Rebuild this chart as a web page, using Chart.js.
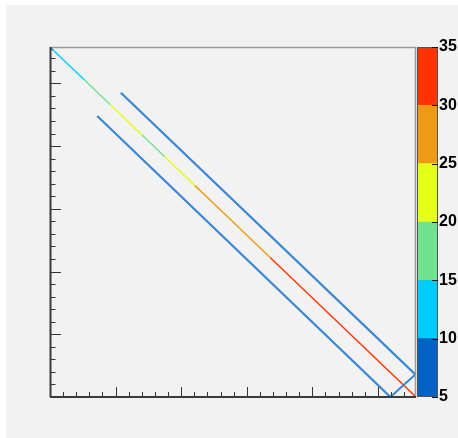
<!DOCTYPE html>
<html>
<head>
<meta charset="utf-8">
<script src="https://cdn.jsdelivr.net/npm/chart.js"></script>
<style>
  body { margin: 0; background: #ffffff; }
  #pad { position: absolute; left: 6px; top: 5px; width: 452px; height: 433px; background: #f2f2f2; }
  #main { position: absolute; left: 0; top: 0; }
  #cbar { position: absolute; left: 417px; top: 0; }
</style>
</head>
<body>
<div id="pad"></div>
<canvas id="main" width="458" height="438"></canvas>
<canvas id="cbar" width="41" height="438"></canvas>
<script>
// axis range (no labels on the axes)
const xMin = 0, xMax = 5.58;
const yMin = 0, yMax = 5.58;

// colour levels of the z scale
const levels = [5, 10, 15, 20, 25, 30, 35];
const levelColors = ["#0062c4", "#00ccff", "#70e290", "#e6ff1a", "#ef9a14", "#ff3300"];

// main diagonal, content changes along it
const diagX = [0.00, 0.05, 0.53, 0.92, 1.40, 1.75, 2.21, 2.70, 3.36, 5.58];
const diagY = [5.58, 5.53, 5.05, 4.66, 4.18, 3.83, 3.37, 2.88, 2.22, 0.00];
const diagZ = [7, 12, 17, 21, 19, 22, 26, 28, 32];

// the two side bands and the short closing piece (content ~5-10)
const upperX = [1.08, 5.57];
const upperY = [4.85, 0.36];
const lowerX = [0.72, 5.19];
const lowerY = [4.48, 0.00];
const closeX = [5.19, 5.57];
const closeY = [0.00, 0.36];

function colorFor(z)
{
    for (let i = 0; i < levels.length - 1; i++)
    {
        if (z >= levels[i] && z < levels[i + 1]) return levelColors[i];
    }
    return levelColors[levelColors.length - 1];
}

function pts(xs, ys)
{
    return xs.map((x, i) => ({x: x, y: ys[i]}));
}

const bandColor = "#3886d4";

// ROOT-like frame with ticks pointing inside
const framePlugin = {
    id: "frame",
    afterDatasetsDraw(chart)
    {
        const c = chart.ctx;
        const a = chart.chartArea;
        const xs = chart.scales.x, ys = chart.scales.y;
        c.save();
        c.lineWidth = 1.5;
        c.strokeStyle = "#9a9a9a";
        c.beginPath();
        c.moveTo(a.left, a.top + 0.5);
        c.lineTo(a.right, a.top + 0.5);
        c.moveTo(a.right - 0.5, a.top);
        c.lineTo(a.right - 0.5, a.bottom);
        c.stroke();

        c.lineWidth = 1;
        c.strokeStyle = "#333";
        c.beginPath();
        xs.ticks.forEach(t => {
            const v = t.value;
            if (v <= xMin || v >= xMax) return;
            const px = Math.round(xs.getPixelForValue(v)) + 0.5;
            const major = Math.abs(v - Math.round(v)) < 1e-6;
            c.moveTo(px, a.bottom);
            c.lineTo(px, a.bottom - (major ? 10 : 5));
        });
        ys.ticks.forEach(t => {
            const v = t.value;
            if (v <= yMin || v >= yMax) return;
            const py = Math.round(ys.getPixelForValue(v)) + 0.5;
            const major = Math.abs(v - Math.round(v)) < 1e-6;
            c.moveTo(a.left, py);
            c.lineTo(a.left + (major ? 11 : 5.5), py);
        });
        c.stroke();

        c.lineWidth = 2;
        c.strokeStyle = "#3a3a3a";
        c.beginPath();
        c.moveTo(a.left + 0.5, a.top);
        c.lineTo(a.left + 0.5, a.bottom);
        c.moveTo(a.left, a.bottom);
        c.lineTo(a.right, a.bottom);
        c.stroke();
        c.restore();
    }
};

const hiddenTicks = { stepSize: 0.2, maxTicksLimit: 100, minRotation: 90, font: { size: 2 } };

new Chart(document.getElementById("main"), {
    type: "scatter",
    data: {
        datasets: [
            {
                data: pts(upperX, upperY),
                showLine: true,
                borderColor: bandColor,
                borderWidth: 2.2,
                pointRadius: 0
            },
            {
                data: pts(lowerX, lowerY),
                showLine: true,
                borderColor: bandColor,
                borderWidth: 2.2,
                pointRadius: 0
            },
            {
                data: pts(closeX, closeY),
                showLine: true,
                borderColor: bandColor,
                borderWidth: 2,
                pointRadius: 0
            },
            {
                data: pts(diagX, diagY),
                showLine: true,
                borderWidth: 1.4,
                pointRadius: 0,
                segment: {
                    borderColor: ctx => colorFor(diagZ[ctx.p0DataIndex])
                }
            }
        ]
    },
    options: {
        responsive: false,
        animation: false,
        layout: { padding: { left: 50, top: 47, right: 42, bottom: 41 } },
        plugins: { legend: { display: false }, tooltip: { enabled: false } },
        scales: {
            x: { type: "linear", min: xMin, max: xMax, display: false, ticks: hiddenTicks },
            y: { type: "linear", min: yMin, max: yMax, display: false, ticks: hiddenTicks }
        }
    },
    plugins: [framePlugin]
});

// colour bar
const barPlugin = {
    id: "barframe",
    afterDatasetsDraw(chart)
    {
        const c = chart.ctx;
        const a = chart.chartArea;
        const ys = chart.scales.y;
        c.save();
        c.strokeStyle = "#555";
        c.lineWidth = 1;
        c.strokeRect(a.left + 0.5, a.top + 0.5, a.right - a.left - 1, a.bottom - a.top - 1);
        c.strokeStyle = "#111";
        c.beginPath();
        ys.ticks.forEach(t => {
            const py = Math.round(ys.getPixelForValue(t.value)) + 0.5;
            c.moveTo(a.right - 6, py);
            c.lineTo(a.right, py);
        });
        c.stroke();
        c.restore();
    }
};

new Chart(document.getElementById("cbar"), {
    type: "bar",
    data: {
        labels: [""],
        datasets: levelColors.map((col, i) => ({
            data: [[levels[i], levels[i + 1]]],
            backgroundColor: col,
            borderWidth: 0,
            grouped: false,
            barPercentage: 1,
            categoryPercentage: 1
        }))
    },
    options: {
        responsive: false,
        animation: false,
        layout: { padding: { left: 0, top: 47, right: 0, bottom: 41 } },
        plugins: { legend: { display: false }, tooltip: { enabled: false } },
        scales: {
            x: { display: false },
            y: {
                position: "right",
                min: levels[0],
                max: levels[levels.length - 1],
                afterFit: s => { s.width = 20; },
                grid: { display: false, drawTicks: false, tickLength: 0 },
                border: { display: false },
                ticks: {
                    stepSize: 5,
                    padding: 1,
                    color: "#000",
                    font: { family: "'Liberation Sans', Arial, sans-serif", size: 16, weight: "bold" }
                }
            }
        }
    },
    plugins: [barPlugin]
});
</script>
</body>
</html>
